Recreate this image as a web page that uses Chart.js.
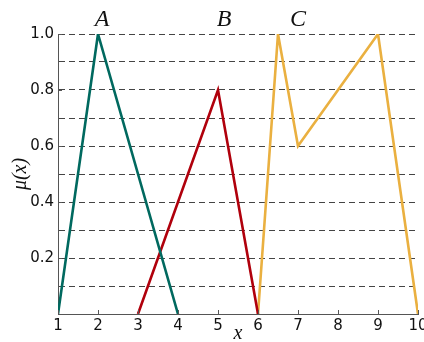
<!DOCTYPE html>
<html>
<head>
<meta charset="utf-8">
<script src="https://cdn.jsdelivr.net/npm/chart.js@4"></script>
<style>
  html, body { margin: 0; padding: 0; background: #fff; }
  #wrap { width: 424px; height: 342px; }
</style>
</head>
<body>
<div id="wrap"><canvas id="muChart" width="424" height="342"></canvas></div>
<script>
/* ===== data ===== */
const setNames = ["A", "B", "C"];
const setLabelX = [2.1, 5.15, 7];

const xA = [1, 2, 4];
const yA = [0, 1, 0];
const xB = [3, 5, 6];
const yB = [0, 0.8, 0];
const xC = [6, 6.5, 7, 9, 10];
const yC = [0, 1, 0.6, 1, 0];

const xTicks = [1, 2, 3, 4, 5, 6, 7, 8, 9, 10];
const yTickLabels = ["0.2", "0.4", "0.6", "0.8", "1.0"];

const colors = ["#00695f", "#b0000c", "#eab040"];

function toPoints(xs, ys){
    return xs.map((x, i) => ({ x: x, y: ys[i] }));
}

/* ===== extra text + inward ticks ===== */
const decoPlugin = {
    id: "deco",
    afterDraw(chart){
        const c = chart.ctx;
        const sx = chart.scales.x;
        const sy = chart.scales.y;
        const area = chart.chartArea;

        c.save();
        // small inward ticks
        c.strokeStyle = "#555";
        c.lineWidth = 1;
        xTicks.forEach(v => {
            const px = Math.round(sx.getPixelForValue(v)) + 0.5;
            c.beginPath();
            c.moveTo(px, area.bottom);
            c.lineTo(px, area.bottom - 4);
            c.stroke();
        });
        yTickLabels.forEach(t => {
            const py = Math.round(sy.getPixelForValue(Number(t))) + 0.5;
            c.beginPath();
            c.moveTo(area.left, py);
            c.lineTo(area.left + 4, py);
            c.stroke();
        });

        // set names above plot
        c.fillStyle = "#111";
        c.font = "italic 24px 'Liberation Serif', 'DejaVu Serif', serif";
        c.textAlign = "center";
        c.textBaseline = "alphabetic";
        setNames.forEach((n, i) => {
            c.fillText(n, sx.getPixelForValue(setLabelX[i]), 26);
        });

        // axis titles
        c.font = "italic 20px 'Liberation Serif', 'DejaVu Serif', serif";
        c.textBaseline = "middle";
        c.fillText("x", (area.left + area.right) / 2, 334);

        c.translate(21, 174);
        c.rotate(-Math.PI / 2);
        c.fillText("\u03bc(x)", 0, 0);
        c.restore();
    }
};

new Chart(document.getElementById("muChart"), {
    type: "line",
    data: {
        datasets: [
            { label: "A", data: toPoints(xA, yA), borderColor: colors[0] },
            { label: "B", data: toPoints(xB, yB), borderColor: colors[1] },
            { label: "C", data: toPoints(xC, yC), borderColor: colors[2] }
        ].map(d => Object.assign(d, {
            borderWidth: 2.6,
            pointRadius: 0,
            fill: false,
            tension: 0
        }))
    },
    options: {
        responsive: false,
        animation: false,
        layout: { padding: { top: 34, right: 6, left: 0, bottom: 0 } },
        plugins: {
            legend: { display: false },
            tooltip: { enabled: false }
        },
        scales: {
            x: {
                type: "linear",
                min: 1,
                max: 10,
                grid: { display: false, drawTicks: false },
                border: { display: true, color: "#555", width: 1 },
                ticks: {
                    stepSize: 1,
                    padding: 3,
                    color: "#111",
                    maxRotation: 0,
                    autoSkip: false,
                    font: { family: "'DejaVu Sans', sans-serif", size: 15 }
                },
                afterFit: s => {
                    s.height = 28;
                    s.paddingLeft = 0;
                    s.paddingRight = 0;
                }
            },
            y: {
                min: 0,
                max: 1,
                grid: {
                    drawTicks: false,
                    color: ctx => ctx.tick && Math.abs(ctx.tick.value) < 1e-6 ? "rgba(0,0,0,0)" : "#444",
                    lineWidth: 1
                },
                border: { display: true, color: "#555", width: 1, dash: [6, 4] },
                ticks: {
                    stepSize: 0.1,
                    padding: 4,
                    color: "#111",
                    autoSkip: false,
                    font: { family: "'DejaVu Sans', sans-serif", size: 15 },
                    callback: v => {
                        const lbl = Number(v).toFixed(1);
                        return yTickLabels.includes(lbl) ? lbl : "";
                    }
                },
                afterFit: s => {
                    s.width = 58;
                    s.paddingTop = 0;
                    s.paddingBottom = 0;
                }
            }
        }
    },
    plugins: [decoPlugin]
});
</script>
</body>
</html>
